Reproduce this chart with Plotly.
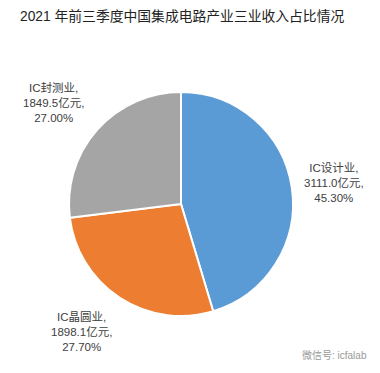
import plotly.graph_objects as go

title = "2021 年前三季度中国集成电路产业三业收入占比情况"
categories = ["IC设计业", "IC晶圆业", "IC封测业"]
values = [3111.0, 1898.1, 1849.5]
percents = [45.30, 27.70, 27.00]
colors = ["#5B9BD5", "#ED7D31", "#A5A5A5"]

# page body has an 8px margin, so the figure is drawn 8px in from the window edge
OFF = 8
W, H = 380 - OFF, 373 - OFF
FONT = "Liberation Sans, Arial, Noto Sans CJK SC, sans-serif"


def px_x(x):
    return (x - OFF) / W


def px_y(y):
    return 1 - (y - OFF) / H


fig = go.Figure(go.Pie(
    labels=categories,
    values=values,
    sort=False,
    direction="clockwise",
    rotation=0,
    textinfo="none",
    hoverinfo="label+value+percent",
    marker=dict(colors=colors, line=dict(color="white", width=2)),
    domain=dict(x=[px_x(69), px_x(293)], y=[px_y(316), px_y(92)]),
    showlegend=False,
))

# label placement (pixel centres in window) for each category
label_pos = [(334, 183), (81, 332), (53, 102)]
annotations = []
for name, v, p, (px, py) in zip(categories, values, percents, label_pos):
    annotations.append(dict(
        x=px_x(px), y=px_y(py), xref="paper", yref="paper",
        text=f"{name},<br>{v:.1f}亿元,<br>{p:.2f}%",
        showarrow=False, align="center", xanchor="center", yanchor="middle",
        font=dict(size=11.5, color="#404040", family=FONT),
    ))
annotations.append(dict(
    x=px_x(18), y=px_y(16), xref="paper", yref="paper",
    text=title, showarrow=False, xanchor="left", yanchor="middle",
    font=dict(size=13.8, color="#222222", family=FONT),
))
annotations.append(dict(
    x=px_x(334), y=px_y(355), xref="paper", yref="paper",
    text="微信号: icfalab", showarrow=False, xanchor="center", yanchor="middle",
    font=dict(size=10, color="#9a9a9a", family=FONT),
))

fig.update_layout(
    width=W, height=H,
    margin=dict(l=0, r=0, t=0, b=0),
    paper_bgcolor="white", plot_bgcolor="white",
    annotations=annotations,
)
fig.write_html("out.html")
